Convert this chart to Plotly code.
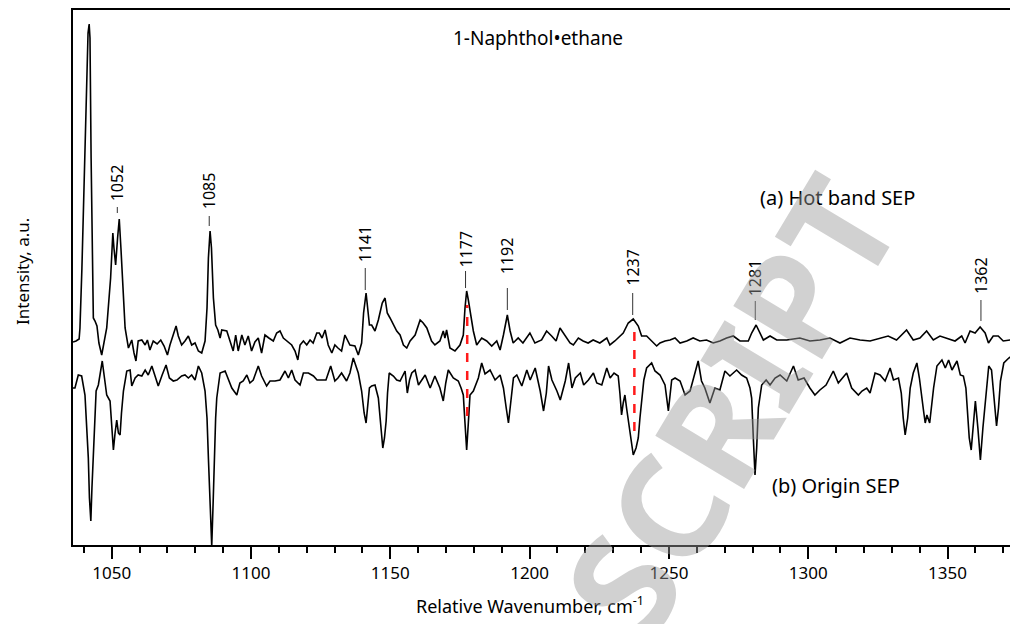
import plotly.graph_objects as go

# ---------------- data ----------------
# (a) Hot band SEP : wavenumber (cm-1) and relative intensity (a.u., baseline 0)
hot_wn = [1036.1, 1037.2, 1038.3, 1038.6, 1039.3, 1040.1, 1040.8, 1041.5, 1041.9, 1042.2,
          1042.6, 1043.0, 1043.4, 1044.0, 1044.7, 1045.4, 1046.4, 1047.2, 1048.2, 1049.6,
          1050.4, 1050.8, 1051.4, 1052.1, 1052.7, 1053.3, 1054.1, 1054.8, 1056.0, 1057.2,
          1058.0, 1058.7, 1059.5, 1060.8, 1062.0, 1062.8, 1063.7, 1064.9, 1066.3, 1067.6,
          1068.8, 1070.0, 1070.9, 1072.1, 1073.1, 1073.9, 1075.1, 1076.3, 1077.5, 1078.7,
          1079.9, 1081.1, 1082.3, 1083.5, 1084.2, 1084.7, 1085.3, 1085.8, 1086.5, 1087.3,
          1088.1, 1088.9, 1089.5, 1091.3, 1092.5, 1093.6, 1094.5, 1095.4, 1096.7, 1097.8,
          1099.0, 1100.2, 1101.4, 1102.6, 1103.8, 1105.0, 1106.4, 1108.0, 1109.2, 1110.4,
          1111.6, 1112.9, 1114.6, 1115.8, 1116.8, 1117.6, 1118.8, 1120.0, 1121.2, 1122.3,
          1123.6, 1124.5, 1125.5, 1126.6, 1127.7, 1129.0, 1130.1, 1131.2, 1132.5, 1133.7,
          1135.5, 1137.3, 1138.5, 1139.7, 1140.4, 1141.3, 1142.0, 1142.5, 1143.3, 1144.5,
          1145.7, 1147.1, 1148.1, 1148.9, 1149.9, 1151.1, 1152.3, 1153.5, 1154.7, 1155.9,
          1157.1, 1158.9, 1160.7, 1161.8, 1163.1, 1164.8, 1166.0, 1167.8, 1169.0, 1169.6,
          1170.2, 1171.4, 1173.2, 1175.0, 1176.2, 1176.8, 1177.4, 1178.0, 1178.6, 1179.8,
          1181.0, 1182.8, 1184.6, 1186.4, 1188.2, 1189.4, 1190.6, 1192.0, 1193.0, 1194.1,
          1195.9, 1197.6, 1200.1, 1201.9, 1204.3, 1206.1, 1207.9, 1209.5, 1210.9, 1212.7,
          1214.5, 1215.7, 1217.5, 1219.2, 1221.0, 1222.8, 1225.2, 1227.7, 1228.8, 1230.6,
          1232.4, 1233.6, 1235.4, 1237.2, 1239.0, 1240.2, 1242.0, 1243.8, 1245.6, 1246.8,
          1248.6, 1250.4, 1252.2, 1254.0, 1256.4, 1258.7, 1261.1, 1263.5, 1265.9, 1268.3,
          1270.7, 1273.1, 1275.5, 1278.5, 1279.7, 1281.3, 1282.7, 1283.9, 1286.3, 1288.7,
          1292.3, 1294.6, 1297.0, 1300.6, 1304.2, 1307.8, 1311.4, 1315.0, 1318.6, 1322.2,
          1325.8, 1328.7, 1331.7, 1335.3, 1337.7, 1340.1, 1342.5, 1344.9, 1347.3, 1349.8,
          1352.7, 1355.1, 1356.3, 1358.1, 1359.9, 1361.7, 1363.5, 1364.7, 1366.4, 1368.2,
          1370.0, 1372.4, 1375.3]
hot_int = [-1, 0, 2, 13, 73, 163, 253, 308, 317, 303,
           183, 73, 23, 20, 15, -2, -14, -2, 13, 63,
           108, 93, 76, 103, 122, 93, 48, 13, -7, 1,
           -12, -20, 0, 1, -4, 1, -9, 0, -3, 1,
           -5, -14, -4, 6, 15, 5, -4, 0, 5, -4,
           -2, -10, -12, 0, 33, 83, 110, 93, 43, 16,
           11, 3, 11, 10, 0, -10, 6, -10, 6, -4,
           5, -10, -1, 3, -12, 6, 3, 0, 8, 10,
           3, 0, -4, -10, -19, -4, 0, -4, 1, -2,
           8, 8, 3, 11, -4, -12, -4, -7, -10, 6,
           -4, -5, -14, -2, 28, 48, 28, 16, 16, 10,
           21, 38, 43, 28, 23, 16, 10, 6, -4, -7,
           0, 6, 21, 18, 13, 0, -4, 0, 10, 3,
           11, -7, -10, -4, 6, 33, 50, 41, 30, 10,
           -4, 3, 0, -5, 0, -9, 6, 26, 10, -2,
           3, -2, 8, -2, 1, 10, 5, 0, 13, 5,
           -2, -4, 3, 0, -2, 1, -2, 3, -4, 0,
           5, 8, 18, 22, 15, 5, 5, 0, -5, -2,
           0, 1, 3, -2, 0, 3, 0, 1, -2, 0,
           3, 5, 0, 0, 8, 16, 8, 1, 5, 1,
           1, 2, 3, 0, 1, 3, -2, 3, 1, 0,
           3, 5, 1, 11, 1, 3, 10, 1, 5, 3,
           0, 5, -2, 10, 8, 14, 8, -2, 5, 5,
           0, 1, 0]

# (b) Origin SEP : wavenumber (cm-1) and relative intensity (a.u., baseline 0)
origin_wn = [1036.1, 1036.8, 1038.0, 1039.2, 1040.4, 1041.1, 1041.6, 1042.0, 1042.5, 1042.9,
             1043.4, 1043.9, 1044.4, 1045.2, 1046.0, 1046.6, 1047.4, 1048.2, 1049.4, 1050.0,
             1050.6, 1051.2, 1051.8, 1052.4, 1053.0, 1053.5, 1054.2, 1055.4, 1056.6, 1057.2,
             1058.4, 1059.5, 1060.8, 1062.0, 1063.1, 1064.4, 1065.5, 1066.7, 1068.1, 1069.5,
             1070.7, 1072.1, 1073.4, 1075.1, 1076.3, 1077.5, 1078.7, 1079.9, 1081.1, 1082.3,
             1083.5, 1084.2, 1084.7, 1085.3, 1085.9, 1086.4, 1086.8, 1087.3, 1087.7, 1088.9,
             1090.7, 1091.8, 1093.1, 1094.9, 1096.0, 1097.2, 1098.5, 1099.6, 1100.8, 1102.6,
             1103.8, 1105.6, 1106.8, 1108.6, 1110.4, 1112.2, 1113.4, 1114.6, 1115.8, 1117.6,
             1118.8, 1120.6, 1122.4, 1123.7, 1125.4, 1126.9, 1128.6, 1130.1, 1131.2, 1132.5,
             1134.3, 1135.5, 1136.7, 1137.7, 1138.5, 1139.7, 1140.6, 1141.3, 1142.0, 1142.5,
             1143.3, 1144.5, 1145.7, 1146.5, 1147.3, 1147.9, 1148.5, 1149.0, 1149.6, 1151.1,
             1152.3, 1153.5, 1155.3, 1156.1, 1156.9, 1157.7, 1158.9, 1160.1, 1161.2, 1162.5,
             1164.3, 1166.0, 1167.8, 1169.0, 1169.9, 1170.8, 1172.6, 1174.4, 1175.4, 1176.2,
             1176.8, 1177.4, 1178.0, 1178.6, 1179.8, 1180.8, 1181.6, 1182.8, 1184.0, 1185.8,
             1187.6, 1189.4, 1190.6, 1191.6, 1192.4, 1193.2, 1194.2, 1195.4, 1197.2, 1199.0,
             1200.2, 1202.0, 1203.8, 1205.0, 1206.0, 1206.8, 1208.0, 1209.8, 1211.0, 1212.8,
             1214.0, 1215.2, 1216.4, 1218.2, 1219.4, 1221.1, 1222.9, 1224.1, 1225.9, 1227.7,
             1228.9, 1230.3, 1231.8, 1232.4, 1233.0, 1233.6, 1234.2, 1234.8, 1235.4, 1236.4,
             1237.2, 1238.2, 1239.0, 1239.6, 1240.2, 1241.0, 1242.0, 1243.8, 1245.0, 1246.8,
             1248.6, 1249.8, 1251.0, 1252.2, 1254.0, 1255.8, 1257.6, 1259.4, 1260.5, 1261.7,
             1262.9, 1264.7, 1266.5, 1268.3, 1270.1, 1271.9, 1274.3, 1276.1, 1277.9, 1279.1,
             1279.7, 1280.3, 1280.9, 1281.5, 1282.1, 1283.3, 1284.9, 1286.3, 1288.1, 1289.9,
             1292.3, 1294.7, 1296.4, 1298.5, 1300.6, 1302.4, 1304.2, 1306.4, 1309.0, 1310.8,
             1313.8, 1315.6, 1318.0, 1319.3, 1321.0, 1322.2, 1324.0, 1325.8, 1327.6, 1329.4,
             1330.6, 1332.4, 1333.4, 1334.1, 1334.8, 1335.7, 1336.6, 1337.7, 1339.0, 1339.9,
             1340.8, 1341.5, 1342.0, 1342.6, 1343.6, 1344.2, 1345.0, 1346.2, 1348.0, 1349.2,
             1350.4, 1351.6, 1353.4, 1354.6, 1355.7, 1356.6, 1357.3, 1357.8, 1358.5, 1359.1,
             1360.0, 1360.9, 1361.8, 1362.7, 1363.6, 1364.8, 1365.8, 1366.7, 1367.6, 1368.3,
             1369.0, 1370.2, 1371.2, 1372.0, 1373.0, 1374.4, 1375.2]
origin_int = [-10, -10, 3, 2, -17, -50, -80, -120, -143, -110,
              -80, -40, -13, -7, 8, 17, 0, -17, -23, -50,
              -72, -55, -42, -55, -57, -35, -13, 7, 8, -8,
              0, 3, 2, 8, 3, 12, 3, -8, 3, 13,
              0, -3, -2, 2, 3, 0, 3, -2, 12, 5,
              -13, -40, -80, -130, -168, -125, -80, -40, -20, 5,
              7, 0, -10, -17, -5, -3, 3, -5, -2, 12,
              2, -8, -3, -3, -2, 7, 0, 8, -2, -7,
              5, 5, 2, -2, -2, -2, 12, -3, 0, 5,
              -3, 5, 20, 12, 5, -13, -35, -45, -20, -10,
              -8, -7, -20, -50, -70, -60, -43, -15, 5, 2,
              -2, -3, 7, -15, -2, 5, 8, -7, -2, 3,
              -10, 2, -10, -23, -5, 8, 0, -3, -10, -17,
              -45, -72, -45, -17, -13, -5, 0, 15, 4, 8,
              -2, 3, -10, -30, -45, -25, 0, 3, -8, 8,
              -2, 10, -13, -33, -15, 12, -2, -13, -22, -3,
              15, -10, 0, 5, -7, -2, 5, -5, -7, 10,
              0, 5, 2, -15, -37, -25, -17, -30, -43, -65,
              -77, -70, -60, -40, -20, -2, 10, 15, 7, 3,
              -7, -33, -2, 0, -3, -17, -13, 7, 17, -3,
              -10, -25, -10, -12, 7, 2, 8, 3, 0, -10,
              -20, -60, -97, -70, -30, -7, -2, -7, 0, 3,
              -3, 12, -2, 0, -10, -17, -12, -7, 7, -5,
              5, -10, -17, -13, -10, -15, 5, 3, -3, 10,
              -2, 0, -15, -40, -57, -40, -10, 5, 15, 0,
              -17, -35, -45, -37, -45, -30, -10, 12, 18, 10,
              18, 8, 17, 3, 2, -10, -40, -60, -72, -50,
              -23, -50, -82, -50, -20, 12, 8, -20, -48, -30,
              -3, 15, 18, 20, 22, 17, 27]

# vertical offsets of the two stacked spectra (a.u.)
hot_offset = 212
origin_offset = 175

# labelled peaks of the hot band spectrum (cm-1)
peak_labels = [1052, 1085, 1141, 1177, 1192, 1237, 1281, 1362]
peak_label_y = [370, 362, 309, 304, 297, 286, 275, 278]
peak_tick_top = [346, 337, 285, 282, 265, 260, 252, 253]
peak_tick_bot = [340, 327, 263, 265, 243, 238, 233, 232]

# red dashed correlations between spectra (cm-1) and their vertical extent (a.u.)
dashed_wn = [1177.6, 1237.6]
dashed_top = [248, 222]
dashed_bot = [137, 122]

x_major_ticks = [1050, 1100, 1150, 1200, 1250, 1300, 1350]

# ---------------- figure ----------------
FONT = "Noto Sans"
PAGE = 8                       # default body margin of the html page
FIG_W, FIG_H = 1018 - PAGE, 624 - PAGE
L, T = 73 - PAGE, 0            # plot area origin inside the figure
W, H = FIG_W - L, 545 - PAGE - T


def px(x, y):
    """pixel position in the screenshot -> paper coordinates"""
    return (x - PAGE - L) / W, (T + H - (y - PAGE)) / H


fig = go.Figure()
fig.add_trace(go.Scatter(
    x=hot_wn, y=[v + hot_offset for v in hot_int], mode="lines",
    line=dict(color="black", width=1.6), name="(a) Hot band SEP", showlegend=False))
fig.add_trace(go.Scatter(
    x=origin_wn, y=[v + origin_offset for v in origin_int], mode="lines",
    line=dict(color="black", width=1.6), name="(b) Origin SEP", showlegend=False))

shapes = []
for wn, t, b in zip(peak_labels, peak_tick_top, peak_tick_bot):
    shapes.append(dict(type="line", xref="x", yref="y", x0=wn, x1=wn, y0=b, y1=t,
                       line=dict(color="#333333", width=1)))
for wn, t, b in zip(dashed_wn, dashed_top, dashed_bot):
    shapes.append(dict(type="line", xref="x", yref="y", x0=wn, x1=wn, y0=b, y1=t,
                       line=dict(color="#ff1a1a", width=2.5, dash="dash")))
# top frame line
shapes.append(dict(type="line", xref="paper", yref="paper", x0=0, x1=1,
                   y0=1 - 1.0 / H, y1=1 - 1.0 / H, line=dict(color="black", width=2)))

annotations = []
for wn, y in zip(peak_labels, peak_label_y):
    annotations.append(dict(x=wn, y=y, xref="x", yref="y", text=str(wn), textangle=-90,
                            xanchor="center", yanchor="middle", showarrow=False,
                            font=dict(family=FONT, size=16, color="black")))


def paper_text(x, y, text, size, **kw):
    px_, py_ = px(x, y)
    d = dict(x=px_, y=py_, xref="paper", yref="paper", text=text, showarrow=False,
             xanchor="center", yanchor="middle",
             font=dict(family=FONT, size=size, color=kw.pop("color", "black")))
    d.update(kw)
    return d


annotations += [
    paper_text(538, 38, "1-Naphthol•ethane", 19),
    paper_text(837, 198, "(a) Hot band SEP", 20),
    paper_text(836, 485, "(b) Origin SEP", 20),
    paper_text(22, 272, "Intensity, a.u.", 17, textangle=-90),
    paper_text(530, 605, "Relative Wavenumber, cm<sup>-1</sup>", 18),
    # watermark
    paper_text(728, 405, "<b>SCRIPT</b>", 145, color="#9a9a9a", textangle=-59, opacity=0.45),
]

fig.update_layout(
    width=FIG_W, height=FIG_H,
    margin=dict(l=L, r=FIG_W - L - W, t=T, b=FIG_H - T - H),
    paper_bgcolor="white", plot_bgcolor="white",
    font=dict(family=FONT, color="black"),
    shapes=shapes, annotations=annotations,
    xaxis=dict(
        range=[1036.1, 1375.3], showline=True, linecolor="black", linewidth=2,
        showgrid=False, zeroline=False, automargin=False,
        tickmode="array", tickvals=x_major_ticks, ticktext=[str(v) for v in x_major_ticks],
        ticks="outside", ticklen=12, tickwidth=1.5, tickcolor="black",
        tickfont=dict(family=FONT, size=17, color="black"),
        minor=dict(dtick=10, tick0=1050, ticks="outside", ticklen=6, tickwidth=1.5,
                   tickcolor="black", showgrid=False),
    ),
    yaxis=dict(
        range=[PAGE, 545], showline=True, linecolor="black", linewidth=1.5,
        showgrid=False, zeroline=False, showticklabels=False, ticks="", automargin=False,
    ),
)

fig.write_html("out.html")
